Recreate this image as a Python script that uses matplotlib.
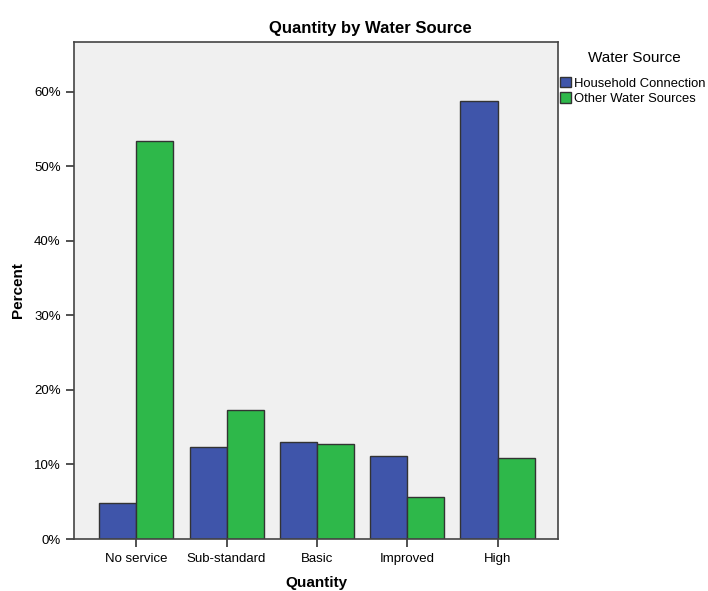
import numpy as np
import matplotlib
matplotlib.use('Agg')
import matplotlib.pyplot as plt
from matplotlib.patches import Patch
from matplotlib.ticker import FuncFormatter

plt.rcParams['font.family'] = ['Liberation Sans', 'DejaVu Sans']

# Dados
categories = ['No service', 'Sub-standard', 'Basic', 'Improved', 'High']
household = [4.8, 12.3, 13.0, 11.1, 58.8]
other = [53.4, 17.3, 12.75, 5.6, 10.9]
series_names = ['Household Connection', 'Other Water Sources']

BLUE = '#3F55AA'
GREEN = '#2EB84A'
EDGE = '#333333'

fig = plt.figure(figsize=(7.08, 5.91), dpi=100)
ax = fig.add_axes([74 / 708, 1 - 539 / 591, 484 / 708, 497 / 591])
ax.set_facecolor('#F0F0F0')

x = np.arange(len(categories))
w = 0.41
ax.bar(x - w / 2, household, w, color=BLUE, edgecolor=EDGE, linewidth=1)
ax.bar(x + w / 2, other, w, color=GREEN, edgecolor=EDGE, linewidth=1)

ax.set_xlim(-0.69, 4.67)
ax.set_ylim(0, 66.7)
ax.set_yticks(np.arange(0, 61, 10))
ax.yaxis.set_major_formatter(FuncFormatter(lambda v, p: f'{v:.0f}%'))
ax.set_xticks(x)
ax.set_xticklabels(categories)
ax.tick_params(axis='both', labelsize=9.5, length=6, width=1.2, color='#333333')
ax.tick_params(axis='x', pad=4)

for s in ax.spines.values():
    s.set_color('#444444')
    s.set_linewidth(1.2)

fig.text(370 / 708, 1 - 28 / 591, 'Quantity by Water Source', ha='center', va='center',
         fontsize=12, fontweight='bold')
fig.text(18 / 708, 1 - 290 / 591, 'Percent', ha='center', va='center', rotation=90,
         fontsize=11, fontweight='bold')
fig.text(316 / 708, 1 - 583 / 591, 'Quantity', ha='center', va='center',
         fontsize=11, fontweight='bold')

# Legenda
fig.text(634 / 708, 1 - 58 / 591, 'Water Source', ha='center', va='center', fontsize=11)
handles = [Patch(facecolor=BLUE, edgecolor=EDGE), Patch(facecolor=GREEN, edgecolor=EDGE)]
fig.legend(handles, series_names, loc='upper left', bbox_to_anchor=(560 / 708, 1 - 77 / 591),
           fontsize=9.4, frameon=False, handlelength=0.85, handleheight=0.85,
           handletextpad=0.25, labelspacing=0.2, borderaxespad=0, borderpad=0)

fig.savefig('out.png', dpi=100)
